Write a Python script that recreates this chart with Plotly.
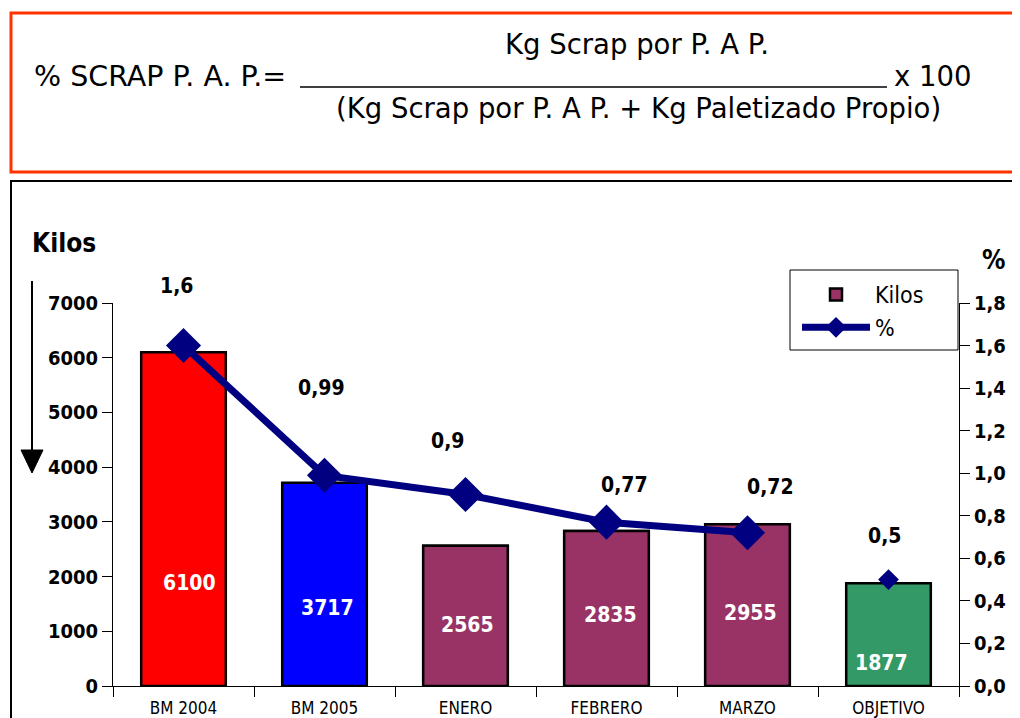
import plotly.graph_objects as go

categories = ["BM 2004", "BM 2005", "ENERO", "FEBRERO", "MARZO", "OBJETIVO"]
kilos = [6100, 3717, 2565, 2835, 2955, 1877]
bar_colors = ["#FF0000", "#0000FF", "#993366", "#993366", "#993366", "#339966"]
pct_cats = ["BM 2004", "BM 2005", "ENERO", "FEBRERO", "MARZO"]
pct = [1.6, 0.99, 0.9, 0.77, 0.72]
obj_cat = ["OBJETIVO"]
obj_pct = [0.5]

# label offsets (pixels) - style only
kilo_label_dy = [103, 78, 61, 71, 73, 23]
kilo_label_dx = [6, 3, 2, 4, 3, -7]
pct_label_dy = [60, 87, 54, 37, 46, 44]
pct_label_dx = [-7, -3, -18, 18, 23, -4]

NARROW = "Liberation Sans Narrow, Arial Narrow, DejaVu Sans Condensed, Liberation Sans, Arial"
FORM = "DejaVu Sans, Verdana, sans-serif"

OFF = 8  # default page margin of the html body
W, H = 1020 - OFF, 718 - OFF
L, R, T, B = 113 - OFF, 959 - OFF, 303 - OFF, 686 - OFF
PW, PH = R - L, B - T


def px(x):
    return (x - OFF - L) / PW


def py(y):
    return (B - (y - OFF)) / PH


fig = go.Figure()

fig.add_trace(go.Bar(
    x=categories, y=kilos, marker=dict(color=bar_colors, line=dict(color="black", width=2.5)),
    showlegend=False, hoverinfo="x+y"))

purple_x = [c for c, col in zip(categories, bar_colors) if col == "#993366"]
purple_y = [v for v, col in zip(kilos, bar_colors) if col == "#993366"]
fig.add_trace(go.Bar(
    x=purple_x, y=purple_y, name="Kilos",
    marker=dict(color="#993366", line=dict(color="black", width=2.5))))

fig.add_trace(go.Scatter(
    x=pct_cats, y=pct, yaxis="y2", name="%", mode="lines+markers",
    line=dict(color="#000080", width=7),
    marker=dict(symbol="diamond", size=27, color="#000080")))

fig.add_trace(go.Scatter(
    x=obj_cat, y=obj_pct, yaxis="y2", mode="markers", showlegend=False,
    marker=dict(symbol="diamond", size=16, color="#000080")))

annotations = []
for c, v, dy, dx in zip(categories, kilos, kilo_label_dy, kilo_label_dx):
    annotations.append(dict(x=c, y=0, xref="x", yref="y", text=f"{v}", showarrow=False,
                            yshift=dy, xshift=dx,
                            font=dict(family=NARROW, size=21, color="white", weight="bold")))
for c, v, dy, dx in zip(pct_cats + obj_cat, pct + obj_pct, pct_label_dy, pct_label_dx):
    annotations.append(dict(x=c, y=v, xref="x", yref="y2", text=f"{v:g}".replace(".", ","),
                            showarrow=False, yshift=dy, xshift=dx,
                            font=dict(family=NARROW, size=21, color="black", weight="bold")))

FS = 27.5
annotations += [
    dict(x=px(30), y=py(243), xref="paper", yref="paper", xanchor="left", yanchor="middle",
         text="<b>Kilos</b>", showarrow=False, font=dict(family=NARROW, size=26, color="black")),
    dict(x=px(993), y=py(260), xref="paper", yref="paper", xanchor="center", yanchor="middle",
         text="<b>%</b>", showarrow=False, font=dict(family=NARROW, size=26, color="black")),
    dict(x=px(32), y=py(76), xref="paper", yref="paper", xanchor="left", yanchor="middle",
         text="% SCRAP P. A. P.=", showarrow=False, font=dict(family=FORM, size=FS + 1, color="black")),
    dict(x=px(637), y=py(44), xref="paper", yref="paper", xanchor="center", yanchor="middle",
         text="Kg Scrap por P. A P.", showarrow=False, font=dict(family=FORM, size=FS, color="black")),
    dict(x=px(892), y=py(76), xref="paper", yref="paper", xanchor="left", yanchor="middle",
         text="x 100", showarrow=False, font=dict(family=FORM, size=FS, color="black")),
    dict(x=px(638), y=py(108), xref="paper", yref="paper", xanchor="center", yanchor="middle",
         text="(Kg Scrap por P. A P. + Kg Paletizado Propio)", showarrow=False,
         font=dict(family=FORM, size=FS, color="black")),
]

shapes = [
    dict(type="rect", xref="paper", yref="paper", x0=px(11), x1=px(1040), y0=py(13), y1=py(172),
         line=dict(color="#FF3300", width=3), fillcolor="rgba(0,0,0,0)"),
    dict(type="rect", xref="paper", yref="paper", x0=px(11), x1=px(1040), y0=py(181), y1=py(740),
         line=dict(color="black", width=2), fillcolor="rgba(0,0,0,0)"),
    dict(type="line", xref="paper", yref="paper", x0=px(300), x1=px(887), y0=py(87), y1=py(87),
         line=dict(color="black", width=1.5)),
    dict(type="line", xref="paper", yref="paper", x0=px(32), x1=px(32), y0=py(281), y1=py(452),
         line=dict(color="black", width=2)),
    dict(type="path", xref="paper", yref="paper",
         path=f"M {px(21)} {py(450)} L {px(43)} {py(450)} L {px(32)} {py(473)} Z",
         fillcolor="black", line=dict(color="black", width=1)),
    # legend frame
    dict(type="rect", xref="paper", yref="paper", x0=px(790), x1=px(958), y0=py(270), y1=py(350),
         line=dict(color="black", width=1), fillcolor="white", layer="above"),
]

fig.update_layout(
    width=W, height=H,
    margin=dict(l=L, r=W - R, t=T, b=H - B, pad=0),
    paper_bgcolor="white", plot_bgcolor="white",
    separators=",.",
    barmode="overlay", bargap=0.4,
    font=dict(family=NARROW, color="black"),
    xaxis=dict(type="category", categoryorder="array", categoryarray=categories,
               showline=True, linecolor="black", linewidth=1, ticks="outside", ticklen=10,
               tickcolor="black", tickson="boundaries", showgrid=False, zeroline=False,
               automargin=False,
               tickfont=dict(family=NARROW, size=17, color="black"), ticklabelstandoff=7),
    yaxis=dict(range=[0, 7000], dtick=1000, showline=True, linecolor="black", linewidth=1,
               ticks="outside", ticklen=10, tickcolor="black", showgrid=False, zeroline=False,
               automargin=False,
               tickfont=dict(family=NARROW, size=20, color="black", weight="bold")),
    yaxis2=dict(range=[0, 1.8], dtick=0.2, tickformat=".1f", overlaying="y", side="right",
                showline=True, linecolor="black", linewidth=1, ticks="outside", ticklen=10,
                tickcolor="black", showgrid=False, zeroline=False, automargin=False,
                tickfont=dict(family=NARROW, size=20, color="black", weight="bold")),
    legend=dict(x=px(797), y=py(273), xanchor="left", yanchor="top",
                bgcolor="rgba(0,0,0,0)", borderwidth=0,
                font=dict(family=NARROW, size=23, color="black"),
                traceorder="normal", itemwidth=68),
    annotations=annotations, shapes=shapes,
)

fig.write_html("out.html")
